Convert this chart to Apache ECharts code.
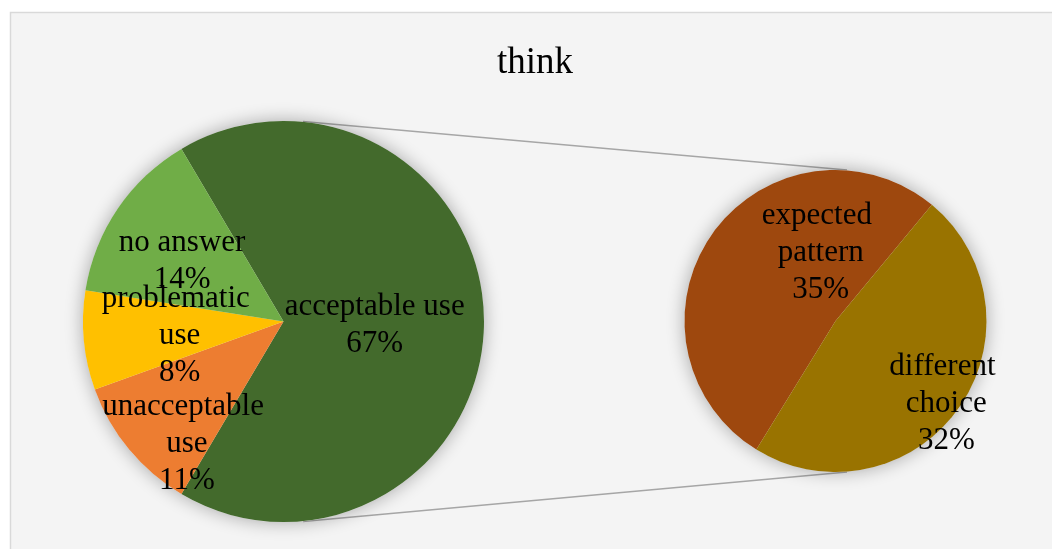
<!DOCTYPE html>
<html>
<head>
<meta charset="utf-8">
<script src="https://cdn.jsdelivr.net/npm/echarts@6/dist/echarts.min.js"></script>
<style>
  html, body { margin: 0; padding: 0; background: #ffffff; }
  #chart { width: 1052px; height: 549px; }
</style>
</head>
<body>
<div id="chart"></div>
<script>
// Main pie: share of answers for "think"
const mainCategories = ['acceptable use', 'unacceptable use', 'problematic use', 'no answer'];
const mainValues = [67, 11, 8, 14];
const mainColors = ['#436A2C', '#ED7D31', '#FFC000', '#70AD47'];

// Secondary pie: breakdown of "acceptable use"
const splitCategories = ['expected pattern', 'different choice'];
const splitValues = [35, 32];
const splitColors = ['#9E480E', '#997300'];

// Layout of the two pies (pixels)
const mainPie = { cx: 283.5, cy: 321.5, r: 200.5 };
const splitPie = { cx: 835.5, cy: 321, r: 151 };

// Label nudges from the default inside position, per slice
const mainLabelShift = [[-12, 4], [-17, 57], [-1, 5], [-16, -2]];
const splitLabelShift = [[49, -22], [47, 37]];

const total = mainValues.reduce((a, b) => a + b, 0);
// Centre the exploded slice on the horizontal axis
const mainStart = 180 * mainValues[0] / total;

const serif = '"Liberation Serif", "Times New Roman", serif';

function labelCfg(extraWidth) {
  return {
    show: true,
    position: 'inside',
    formatter: p => p.name + '\n' + p.value + '%',
    fontFamily: serif,
    fontSize: 31,
    lineHeight: 37,
    color: '#000000',
    width: extraWidth || 170,
    overflow: 'break',
    align: 'center'
  };
}

function backdrop(p) {
  return {
    type: 'pie',
    silent: true,
    z: 1,
    center: [p.cx, p.cy],
    radius: p.r,
    label: { show: false },
    labelLine: { show: false },
    itemStyle: {
      color: '#e8e8e8',
      shadowBlur: 18,
      shadowColor: 'rgba(0,0,0,0.32)',
      shadowOffsetX: 0,
      shadowOffsetY: 0
    },
    data: [{ value: 1, name: '' }]
  };
}

const chart = echarts.init(document.getElementById('chart'), null, { renderer: 'canvas' });

chart.setOption({
  animation: false,
  backgroundColor: '#ffffff',
  title: {
    text: 'think',
    left: 492,
    top: 40,
    textStyle: { fontFamily: serif, fontSize: 37, fontWeight: 'normal', color: '#000000' }
  },
  graphic: [
    {
      type: 'rect',
      z: -10,
      silent: true,
      shape: { x: 10.5, y: 12.5, width: 1100, height: 600 },
      style: { fill: '#f4f4f4', stroke: '#d9d9d9', lineWidth: 1.5 }
    },
    {
      type: 'line',
      z: -5,
      silent: true,
      shape: { x1: mainPie.cx + 19.5, y1: mainPie.cy - mainPie.r + 0.5, x2: splitPie.cx + 11.5, y2: splitPie.cy - splitPie.r },
      style: { stroke: '#a6a6a6', lineWidth: 1.5 }
    },
    {
      type: 'line',
      z: -5,
      silent: true,
      shape: { x1: mainPie.cx + 19.5, y1: mainPie.cy + mainPie.r - 0.5, x2: splitPie.cx + 11.5, y2: splitPie.cy + splitPie.r },
      style: { stroke: '#a6a6a6', lineWidth: 1.5 }
    }
  ],
  series: [
    backdrop(mainPie),
    backdrop(splitPie),
    {
      type: 'pie',
      z: 2,
      center: [mainPie.cx, mainPie.cy],
      radius: mainPie.r,
      startAngle: mainStart,
      clockwise: true,
      avoidLabelOverlap: false,
      emphasis: { disabled: true },
      label: labelCfg(),
      labelLine: { show: false },
      labelLayout: p => ({ dx: mainLabelShift[p.dataIndex][0], dy: mainLabelShift[p.dataIndex][1] }),
      itemStyle: { borderWidth: 0 },
      data: mainCategories.map((name, i) => ({
        name,
        value: mainValues[i],
        itemStyle: { color: mainColors[i] },
        label: i === 0 ? { width: 240 } : undefined
      }))
    },
    {
      type: 'pie',
      z: 2,
      center: [splitPie.cx, splitPie.cy],
      radius: splitPie.r,
      startAngle: 238.4,
      clockwise: true,
      avoidLabelOverlap: false,
      emphasis: { disabled: true },
      label: labelCfg(),
      labelLine: { show: false },
      labelLayout: p => ({ dx: splitLabelShift[p.dataIndex][0], dy: splitLabelShift[p.dataIndex][1] }),
      itemStyle: { borderWidth: 0 },
      data: splitCategories.map((name, i) => ({
        name,
        value: splitValues[i],
        itemStyle: { color: splitColors[i] }
      }))
    }
  ]
});
</script>
</body>
</html>
